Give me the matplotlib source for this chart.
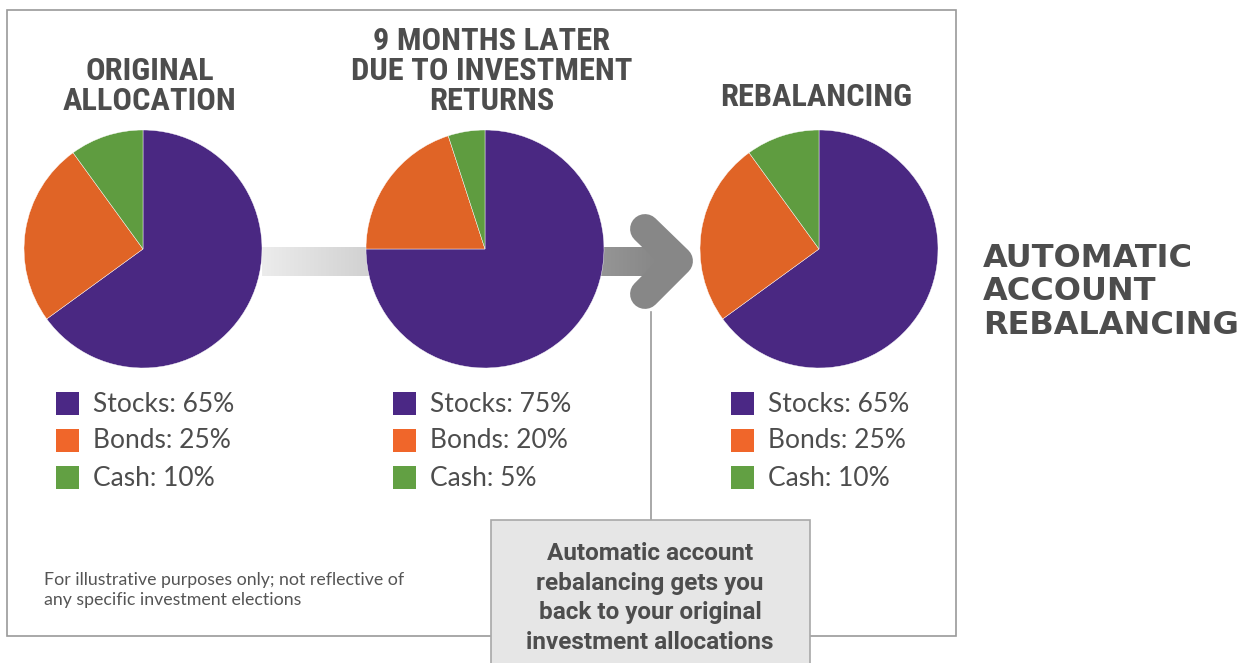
import numpy as np
import matplotlib
matplotlib.use("Agg")
import matplotlib.pyplot as plt
from matplotlib.patches import Rectangle
from matplotlib.colors import LinearSegmentedColormap

W, H = 1239, 663

categories = ["Stocks", "Bonds", "Cash"]
original = [65, 25, 10]
later = [75, 20, 5]
rebalanced = [65, 25, 10]
titles = ["ORIGINAL\nALLOCATION", "9 MONTHS LATER\nDUE TO INVESTMENT\nRETURNS", "REBALANCING"]

pie_colors = ["#4a2882", "#e06426", "#5f9c40"]
key_colors = ["#4b2885", "#f0662a", "#62a043"]
grey_text = "#4d4d4d"

fig = plt.figure(figsize=(W / 100, H / 100), dpi=100)
ax = fig.add_axes([0, 0, 1, 1])


def Y(y):
    # image rows -> data y
    return H - y


# outer frame
ax.add_patch(Rectangle((7, Y(636)), 949, 626, fill=False, ec="#9a9a9a", lw=1.2, zorder=0.3))

# gradient arrow bar behind the pies
cmap = LinearSegmentedColormap.from_list("arr", ["#ececec", "#7e7e7e"])
grad = np.linspace(0, 1, 256).reshape(1, -1)
bar = Rectangle((262, Y(276)), 420, 29, fc="none", ec="none")
ax.add_patch(bar)
im = ax.imshow(grad, cmap=cmap, extent=(262, 694, Y(276), Y(247)), aspect="auto", zorder=0.5)
im.set_clip_path(bar)
ax.plot([645, 678, 645], [Y(229), Y(261), Y(294)], color="#878787", lw=21.5,
        solid_capstyle="round", solid_joinstyle="round", zorder=0.6)

# connector line to callout
ax.plot([651, 651], [Y(312), Y(520)], color="#9a9a9a", lw=1.2, zorder=0.4)

centers = [143, 485, 819]
datasets = [original, later, rebalanced]
title_x = [150, 492, 816]
title_y = [86, 71, 97]
key_x = [56, 393, 731]
for cx, vals, title, tx, ty, kx in zip(centers, datasets, titles, title_x, title_y, key_x):
    wedges, _ = ax.pie(vals, colors=pie_colors, startangle=90, counterclock=False,
                       radius=119, center=(cx, Y(249)), frame=True,
                       wedgeprops=dict(linewidth=0.3, edgecolor="#ffffff"))
    for w in wedges:
        w.set_zorder(2)
    ax.text(tx, Y(ty), title, ha="center", va="center", fontsize=23.3,
            fontweight="bold", color=grey_text, linespacing=0.99,
            family=["Roboto Condensed", "Roboto", "DejaVu Sans"], zorder=5)
    for i, (cat, v) in enumerate(zip(categories, vals)):
        ry = 404 + 37 * i
        ax.add_patch(Rectangle((kx, Y(ry + 11)), 23, 23, fc=key_colors[i], ec="none", zorder=4))
        ax.text(kx + 37, Y(ry), f"{cat}: {v}%", ha="left", va="center", fontsize=19,
                color=grey_text, family=["Lato", "DejaVu Sans"], zorder=5)

# footnote
ax.text(44, Y(590), "For illustrative purposes only; not reflective of\nany specific investment elections",
        ha="left", va="center", fontsize=12.8, color="#555555", linespacing=1.25,
        family=["Lato", "DejaVu Sans"])

# callout box
ax.add_patch(Rectangle((491, Y(680)), 319, 160, fc="#e6e6e6", ec="#a8a8a8", lw=1.2, zorder=6))
ax.text(650, Y(598), "Automatic account\nrebalancing gets you\nback to your original\ninvestment allocations",
        ha="center", va="center", fontsize=17.5, fontweight="bold", color=grey_text,
        linespacing=1.36, family=["Roboto", "DejaVu Sans"], zorder=7)

# side title
ax.text(983, Y(292), "AUTOMATIC\nACCOUNT\nREBALANCING", ha="left", va="center", fontsize=23,
        fontweight="bold", color=grey_text, linespacing=1.12, family=["DejaVu Sans"])

ax.set_xlim(0, W)
ax.set_ylim(0, H)
ax.axis("off")
fig.savefig("out.png", dpi=100)
